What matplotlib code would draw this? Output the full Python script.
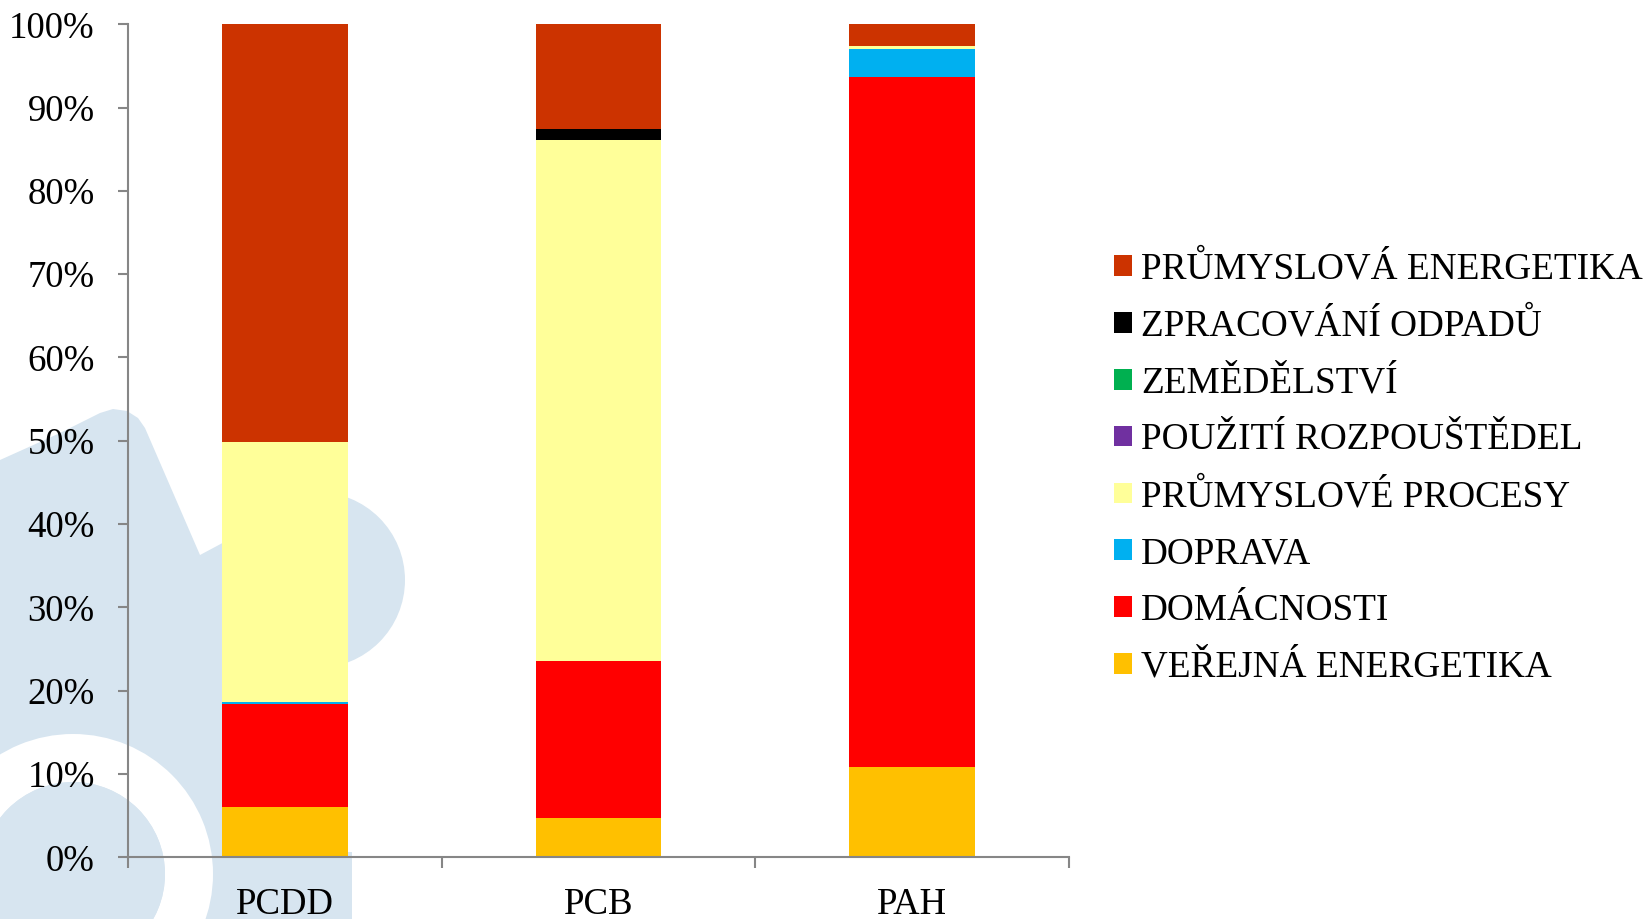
import matplotlib
matplotlib.use("Agg")
import matplotlib.pyplot as plt
from matplotlib.patches import Patch, Polygon, Circle, Wedge
import numpy as np

plt.rcParams['font.family'] = ['Liberation Serif', 'DejaVu Serif']

# Pollutant groups on the x axis
categories = ["PCDD", "PCB", "PAH"]

# Share of each emission source (%), stacked from the bottom up
verejna_energetika = [6.0, 4.7, 10.8]
domacnosti = [12.4, 18.9, 82.9]
doprava = [0.2, 0.0, 3.3]
prumyslove_procesy = [31.2, 62.5, 0.4]
pouziti_rozpoustedel = [0.0, 0.0, 0.0]
zemedelstvi = [0.0, 0.0, 0.0]
zpracovani_odpadu = [0.1, 1.3, 0.0]
prumyslova_energetika = [50.1, 12.6, 2.6]

series = [
    ("VEŘEJNÁ ENERGETIKA", verejna_energetika, "#FFC000"),
    ("DOMÁCNOSTI", domacnosti, "#FF0000"),
    ("DOPRAVA", doprava, "#00B0F0"),
    ("PRŮMYSLOVÉ PROCESY", prumyslove_procesy, "#FFFF99"),
    ("POUŽITÍ ROZPOUŠTĚDEL", pouziti_rozpoustedel, "#7030A0"),
    ("ZEMĚDĚLSTVÍ", zemedelstvi, "#00B050"),
    ("ZPRACOVÁNÍ ODPADŮ", zpracovani_odpadu, "#000000"),
    ("PRŮMYSLOVÁ ENERGETIKA", prumyslova_energetika, "#CC3300"),
]

W, H = 1648, 919
fig = plt.figure(figsize=(W / 100, H / 100), dpi=100)
fig.patch.set_facecolor("white")

# Decorative light-blue logo in the background (figure pixel space)
bg = fig.add_axes([0, 0, 1, 1], zorder=0)
bg.set_xlim(0, W)
bg.set_ylim(H, 0)
bg.axis("off")
logo = "#D7E5F0"
blob = [(0, 460), (60, 433), (100, 413), (113, 409), (127, 411), (138, 418),
        (145, 428), (200, 555), (260, 523), (317, 580), (340, 660),
        (345, 852), (352, 852), (352, 919), (0, 919)]
bg.add_patch(Polygon(blob, closed=True, facecolor=logo, edgecolor="none"))
bg.add_patch(Circle((317, 580), 88, facecolor=logo, edgecolor="none"))
bg.add_patch(Wedge((73, 874), 140, 0, 360, width=48, facecolor="white", edgecolor="none"))
bg.add_patch(Circle((73, 874), 92, facecolor=logo, edgecolor="none"))

# Main chart
ax = fig.add_axes([128 / W, 1 - 857.3 / H, (1069 - 128) / W, (857.3 - 24.3) / H], zorder=1)
ax.patch.set_alpha(0)

x = np.arange(len(categories))
bottom = np.zeros(len(categories))
handles = []
for label, vals, color in series:
    vals = np.array(vals, dtype=float)
    ax.bar(x, vals, width=0.4, bottom=bottom, color=color, edgecolor="none", zorder=2)
    bottom += vals
    handles.append(Patch(facecolor=color, edgecolor="none", label=label))

ax.set_xlim(-0.5, 2.5)
ax.set_ylim(0, 100)
ax.set_yticks(np.arange(0, 101, 10))
ax.set_yticklabels([f"{v}%" for v in range(0, 101, 10)])
ax.set_xticks(x)
ax.set_xticklabels(categories)
ax.set_xticks([-0.5, 0.5, 1.5, 2.5], minor=True)

axis_gray = "#868686"
for side in ("top", "right"):
    ax.spines[side].set_visible(False)
for side in ("left", "bottom"):
    ax.spines[side].set_color(axis_gray)
    ax.spines[side].set_linewidth(1.5)

ax.tick_params(axis="y", which="major", length=7.5, width=1.5, color=axis_gray,
               labelsize=26.5, pad=16.5, labelcolor="black")
ax.tick_params(axis="x", which="major", length=0, labelsize=26.5, pad=21.5, labelcolor="black")
ax.tick_params(axis="x", which="minor", length=8, width=1.5, color=axis_gray, direction="out")

leg = fig.legend(handles=handles[::-1], loc="upper left",
                 bbox_to_anchor=(1114 / W, 1 - 252 / H), frameon=False,
                 fontsize=26.8, handlelength=0.48, handleheight=0.48,
                 handletextpad=0.25, labelspacing=0.60, borderpad=0, borderaxespad=0)

fig.savefig("out.png", dpi=100, facecolor="white")
